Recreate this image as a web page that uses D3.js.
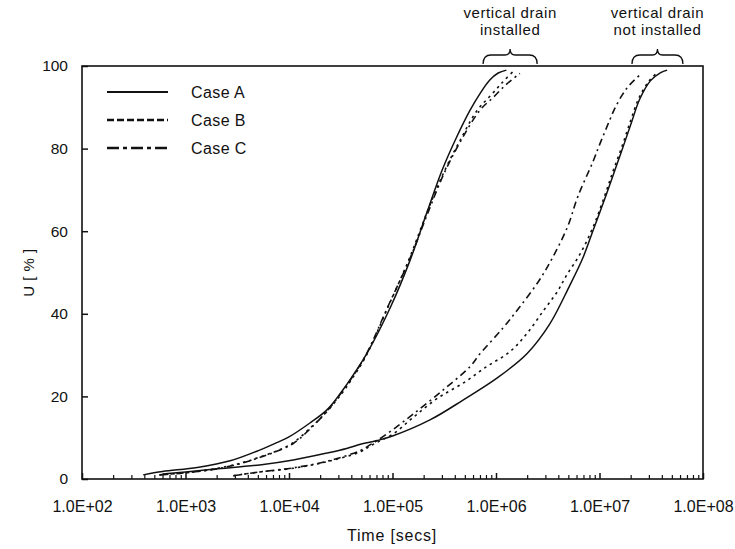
<!DOCTYPE html>
<html><head><meta charset="utf-8">
<script src="https://cdn.jsdelivr.net/npm/d3@7"></script>
<style>
body{margin:0;background:#fff;}
text{font-family:"Liberation Sans",Arial,sans-serif;fill:#111;}
</style></head>
<body><svg id="c" width="735" height="549"></svg>
<script>
// ---- data: [time (s), U (%)] ----
const caseA_drain = [[390,1.0],[600,1.8],[1300,2.8],[2700,4.4],[5200,7.0],[7600,8.8],[10000,10.2],[15800,13.5],[23400,16.8],[33000,21.5],[40000,24.5],[56800,30.5],[95500,41.6],[148000,53],[214000,64.4],[302000,74.8],[417000,82.8],[562000,89.3],[708000,93.5],[871000,96.6],[1050000,98.3],[1260000,99]];
const caseB_drain = [[560,1.0],[1000,1.5],[1860,2.4],[3500,3.9],[5200,5.3],[7600,6.8],[11000,8.8],[15800,12.2],[23400,16.4],[33000,21.0],[40000,24.0],[55000,29.6],[90000,41.5],[145000,53.3],[215000,64.5],[310000,74],[450000,82],[660000,89.3],[900000,93],[1150000,96],[1450000,98.6]];
const caseC_drain = [[560,1.0],[1000,1.5],[1860,2.3],[3500,3.8],[5200,5.2],[7600,6.7],[11000,8.6],[15800,12.0],[23400,16.5],[33000,21.3],[40000,24.3],[55000,29.9],[92000,42.2],[148000,53.5],[220000,64.5],[315000,74],[460000,82],[700000,89.3],[950000,92.5],[1250000,95.5],[1700000,98.2]];
const caseA_nodrain = [[600,1.2],[1000,1.7],[1930,2.4],[5200,3.4],[11000,4.6],[23400,6.3],[36000,7.4],[49000,8.4],[60000,8.9],[71000,9.3],[100000,10.4],[230000,14.3],[480000,19.1],[1020000,24.4],[2000000,30.4],[3300000,37.5],[5100000,46.6],[6900000,53.5],[8700000,60.3],[11500000,68.5],[14100000,74.8],[17000000,80.6],[20400000,86.4],[24500000,92.0],[31000000,96.4],[39000000,98.4],[45000000,99]];
const caseB_nodrain = [[2900,0.8],[5200,1.7],[11000,2.6],[23400,4.2],[49000,6.6],[60000,7.9],[71000,8.9],[100000,10.8],[160000,15],[270000,19.5],[480000,23.2],[810000,27.2],[1360000,30.8],[2000000,35.3],[2900000,40.9],[3900000,45.3],[4800000,49.3],[6500000,54.5],[8700000,61.1],[11200000,68.5],[13500000,74.5],[16500000,80.5],[20000000,86.8],[24000000,92.2],[30000000,96.3],[36000000,98.4]];
const caseC_nodrain = [[2900,0.8],[5200,1.7],[11000,2.7],[23400,4.3],[49000,6.9],[60000,8.2],[71000,9.3],[100000,11.9],[160000,15.8],[300000,21.3],[560000,27.2],[700000,30.3],[1170000,36.6],[1700000,41.7],[2600000,48],[3500000,53.5],[4900000,61],[6200000,68.5],[8700000,77.0],[10000000,80.9],[12600000,87],[14100000,89.8],[16600000,93],[19500000,95.4],[25700000,98.3]];

const seriesNames = ["Case A","Case B","Case C"];
const xMajorTicks = [1e2,1e3,1e4,1e5,1e6,1e7,1e8];
const xTickLabels = ["1.0E+02","1.0E+03","1.0E+04","1.0E+05","1.0E+06","1.0E+07","1.0E+08"];
const yTicks = [0,20,40,60,80,100];
const annotations = [{lines:["vertical drain","installed"],from:7.5e5,to:2.5e6},{lines:["vertical drain","not installed"],from:2.06e7,to:6.4e7}];

// ---- drawing ----
const svg = d3.select("#c");
const L=82,R=703,T=66,B=479;
const x = d3.scaleLog().domain([1e2,1e8]).range([L,R]);
const y = d3.scaleLinear().domain([0,100]).range([B,T]);

const minorTicks=[];
for(let e=2;e<8;e++) for(let m=2;m<10;m++) minorTicks.push(m*Math.pow(10,e));

// minor ticks (inside)
svg.append("g").attr("transform",`translate(0,${B})`)
  .call(d3.axisBottom(x).tickValues(minorTicks).tickSizeInner(-4).tickSizeOuter(0).tickFormat(""))
  .call(g=>g.select(".domain").remove())
  .call(g=>g.selectAll("line").attr("stroke","#111").attr("stroke-width",1.2));
// major ticks + labels
svg.append("g").attr("transform",`translate(0,${B})`)
  .call(d3.axisBottom(x).tickValues(xMajorTicks).tickSizeInner(-6).tickSizeOuter(0).tickPadding(22)
     .tickFormat((d,i)=>xTickLabels[i]))
  .call(g=>g.select(".domain").remove())
  .call(g=>g.selectAll("line").attr("stroke","#111").attr("stroke-width",1.5))
  .call(g=>g.selectAll("text").attr("font-size",16).attr("font-family","Liberation Sans, Arial").attr("fill","#111"));
// y axis
svg.append("g").attr("transform",`translate(${L},0)`)
  .call(d3.axisLeft(y).tickValues(yTicks).tickSizeInner(-6).tickSizeOuter(0).tickPadding(14))
  .call(g=>g.select(".domain").remove())
  .call(g=>g.selectAll("line").attr("stroke","#111").attr("stroke-width",1.5))
  .call(g=>g.selectAll("text").attr("font-size",15.5).attr("font-family","Liberation Sans, Arial").attr("fill","#111"));

// frame
svg.append("rect").attr("x",L).attr("y",T).attr("width",R-L).attr("height",B-T)
  .attr("fill","none").attr("stroke","#111").attr("stroke-width",1.6);

// axis titles
svg.append("text").attr("x",392).attr("y",541).attr("text-anchor","middle").attr("font-size",16).attr("letter-spacing",0.8).text("Time [secs]");
svg.append("text").attr("transform",`translate(34,${(T+B)/2}) rotate(-90)`).attr("text-anchor","middle").attr("font-size",15).attr("letter-spacing",0.5).text("U [ % ]");

// curves
const line = d3.line().x(d=>x(d[0])).y(d=>y(d[1])).curve(d3.curveCatmullRom.alpha(0.5));
const styles = {A:{dash:null,w:1.5},B:{dash:"2.5,4",w:1.6},C:{dash:"7,4,2,4",w:1.6}};
const curves=[[caseA_drain,"A"],[caseB_drain,"B"],[caseC_drain,"C"],[caseA_nodrain,"A"],[caseB_nodrain,"B"],[caseC_nodrain,"C"]];
curves.forEach(([data,k])=>{
  svg.append("path").datum(data).attr("d",line).attr("fill","none")
    .attr("stroke","#111").attr("stroke-width",styles[k].w)
    .attr("stroke-dasharray",styles[k].dash);
});

// legend
const legStyles=[{dash:null},{dash:"7,3"},{dash:"12,4,4,4"}];
seriesNames.forEach((n,i)=>{
  const yy=92+i*28;
  svg.append("line").attr("x1",107).attr("x2",168).attr("y1",yy).attr("y2",yy)
    .attr("stroke","#111").attr("stroke-width",i==0?1.8:2.6).attr("stroke-dasharray",legStyles[i].dash);
  svg.append("text").attr("x",191).attr("y",yy+6).attr("font-size",16).attr("letter-spacing",0.4).text(n);
});

// annotations with braces
annotations.forEach(a=>{
  const x1=x(a.from), x2=x(a.to), cx=(x1+x2)/2;
  a.lines.forEach((t,i)=>{
    svg.append("text").attr("x",cx).attr("y",18+i*17).attr("text-anchor","middle").attr("font-size",15).attr("letter-spacing",0.6).text(t);
  });
  const yb=55;
  svg.append("path").attr("d",`M${x1},${T-2} Q${x1},${yb} ${x1+8},${yb} L${cx-5},${yb} Q${cx},${yb} ${cx},${yb-6} Q${cx},${yb} ${cx+5},${yb} L${x2-8},${yb} Q${x2},${yb} ${x2},${T-2}`)
    .attr("fill","none").attr("stroke","#111").attr("stroke-width",1.3);
});
</script></body></html>
